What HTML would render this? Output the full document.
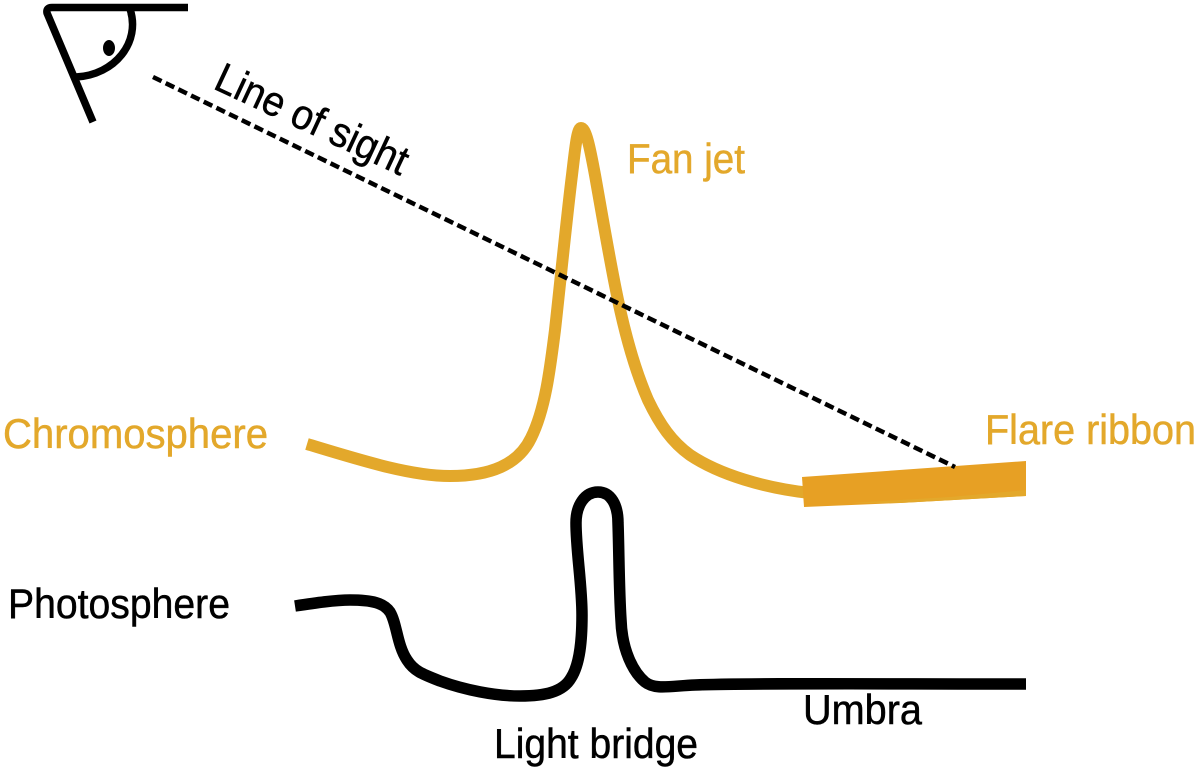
<!DOCTYPE html>
<html>
<head>
<meta charset="utf-8">
<style>
html,body{margin:0;padding:0;background:#fff}
svg{display:block}
text{font-family:"Liberation Sans",sans-serif;font-size:42px;stroke-width:.5px}
</style>
</head>
<body>
<svg width="1200" height="771" viewBox="0 0 1200 771" xmlns="http://www.w3.org/2000/svg">
<rect width="1200" height="771" fill="#fff"/>
<!-- eye -->
<g fill="none" stroke="#000" stroke-width="7.500">
<path d="M188 7.500 L52 7.500 Q46 7.500 47 13 L93 122" stroke-linejoin="round"/>
<path d="M130 9 C141 42 115 75 76 77"/>
</g>
<ellipse cx="109" cy="48" rx="6" ry="8" fill="#000"/>
<!-- chromosphere -->
<path d="M307 444 C360 460 410 476 450 476 C490 476 518 465 531 438 C545 410 550 370 555 330 C560 285 567 215 572 175 C575 150 577 128 581 128 C586 128 590 148 595 175 C603 220 610 262 618 300 C626 338 635 370 648 400 C660 425 672 442 690 455 C720 475 765 488 810 493" fill="none" stroke="#e3a82b" stroke-width="12"/>
<!-- ribbon -->
<polygon points="802,477 1026,461 1026,496 900,503 804,507" fill="#e7a024"/>
<polygon points="850,503 950,497 1026,490 1026,496 900,503" fill="#e3a82b"/>
<!-- line of sight -->
<line x1="153" y1="77" x2="955" y2="467" stroke="#000" stroke-width="4.500" stroke-dasharray="9.500 4.600"/>
<!-- photosphere -->
<path d="M295 606 C315 603 335 600 350 600 C372 600 384 603 390 612 C397 624 397 645 407 660 C414 671 422 674 440 681 C465 690 495 696 520 696 C545 696 563 692 571 678 C580 664 582 640 582 615 C582 585 576 550 576 523 C576 505 585 492 598 492 C611 492 618 505 618 523 C619 550 619 590 621 620 C622 650 633 672 645 682 C655 690 670 686 695 685 C740 683 880 684 1026 684" fill="none" stroke="#000" stroke-width="11.500"/>
<!-- labels -->
<text x="3" y="448" fill="#e3a82b" stroke="#e3a82b" textLength="265" lengthAdjust="spacingAndGlyphs">Chromosphere</text>
<text x="627" y="173" fill="#e3a82b" stroke="#e3a82b" textLength="118" lengthAdjust="spacingAndGlyphs">Fan jet</text>
<text x="985" y="444" fill="#e3a82b" stroke="#e3a82b" textLength="211" lengthAdjust="spacingAndGlyphs">Flare ribbon</text>
<text x="8" y="618" fill="#000" stroke="#000" textLength="222" lengthAdjust="spacingAndGlyphs">Photosphere</text>
<text x="803" y="724" fill="#000" stroke="#000" textLength="119" lengthAdjust="spacingAndGlyphs">Umbra</text>
<text x="494" y="758" fill="#000" stroke="#000" textLength="204" lengthAdjust="spacingAndGlyphs">Light bridge</text>
<text transform="translate(212 88) rotate(25)" fill="#000" stroke="#000" textLength="208" lengthAdjust="spacingAndGlyphs">Line of sight</text>
</svg>
</body>
</html>
